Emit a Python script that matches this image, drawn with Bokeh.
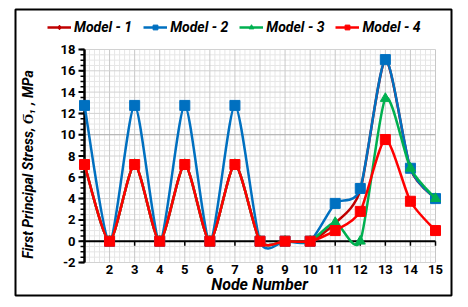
import math
from bokeh.plotting import figure
from bokeh.models import Legend, LegendItem, ColumnDataSource, Range1d
from bokeh.core.properties import value
from bokeh.embed import file_html
from bokeh.resources import INLINE

# ---- data ----
nodes = list(range(1, 16))
model1 = [7.2, 0, 7.2, 0, 7.2, 0, 7.2, 0, 0, 0, 1.7, 4.8, 17.0, 6.8, 4.0]
model2 = [12.75, 0, 12.75, 0, 12.75, 0, 12.75, 0, 0, 0, 3.55, 4.95, 17.05, 6.85, 4.0]
model3 = [7.2, 0, 7.2, 0, 7.2, 0, 7.2, 0, 0, 0, 1.75, 0, 13.4, 6.85, 4.0]
model4 = [7.2, 0, 7.2, 0, 7.2, 0, 7.2, 0, 0, 0, 1.0, 2.8, 9.55, 3.75, 1.0]
labels = ["Model - 1", "Model - 2", "Model - 3", "Model - 4"]
colors = ["#C00000", "#0070C0", "#00B050", "#FF0000"]
markers = ["diamond", "square", "triangle", "square"]
msizes = [7, 10, 10, 10]
y_ticks = [-2, 0, 2, 4, 6, 8, 10, 12, 14, 16, 18]
y_tick_labels = [str(v) for v in y_ticks]
x_tick_nodes = nodes[1:]
x_tick_labels = [str(v) for v in x_tick_nodes]
x_title = "Node Number"
y_title = "First Principal Stress, Ϭ₁ , MPa"

FONT = value("Roboto")

# ---- layout (page pixels) ----
PX_X1, PX_X15 = 85, 436
PX_Y18, PX_YM2 = 50, 263
FR_L, FR_R, FR_T, FR_B = 16, 452, 10, 296
kx = (PX_X15 - PX_X1) / 14.0
ky = (PX_YM2 - PX_Y18) / 20.0
x_start = 1 - (PX_X1 - FR_L) / kx
x_end = 15 + (FR_R - PX_X15) / kx
y_end = 18 + (PX_Y18 - FR_T) / ky
y_start = -2 - (FR_B - PX_YM2) / ky


def bezier_source(xs, ys, k=0.12):
    n = len(xs)
    d = dict(x0=[], y0=[], x1=[], y1=[], cx0=[], cy0=[], cx1=[], cy1=[])
    for i in range(n - 1):
        a = i - 1 if i > 0 else i
        b = i + 2 if i + 2 < n else i + 1
        d["x0"].append(xs[i]); d["y0"].append(ys[i])
        d["x1"].append(xs[i + 1]); d["y1"].append(ys[i + 1])
        d["cx0"].append(xs[i] + k * (xs[i + 1] - xs[a]))
        d["cy0"].append(ys[i] + k * (ys[i + 1] - ys[a]))
        d["cx1"].append(xs[i + 1] - k * (xs[b] - xs[i]))
        d["cy1"].append(ys[i + 1] - k * (ys[b] - ys[i]))
    return ColumnDataSource(d)


p = figure(x_range=Range1d(x_start, x_end), y_range=Range1d(y_start, y_end),
           x_axis_type=None, y_axis_type=None,
           output_backend="svg", toolbar_location=None,
           frame_width=FR_R - FR_L, frame_height=FR_B - FR_T,
           min_border_left=FR_L - 1, min_border_top=FR_T - 1,
           min_border_right=8, min_border_bottom=3)
p.outline_line_color = "black"
p.outline_line_width = 2
p.background_fill_color = "white"
p.border_fill_color = "white"

xmin, xmax = nodes[0], nodes[-1]
ymin, ymax = y_ticks[0], y_ticks[-1]

# ---- grid ----
minor_x = [xmin + i * 0.2 for i in range(int(round((xmax - xmin) / 0.2)) + 1)]
minor_x = [v for v in minor_x if abs(v - round(v)) > 1e-6]
minor_y = [ymin + i * 0.5 for i in range(int(round((ymax - ymin) / 0.5)) + 1)]
minor_y = [v for v in minor_y if abs(v / 2 - round(v / 2)) > 1e-6]
p.segment(x0=minor_x, y0=[ymin] * len(minor_x), x1=minor_x, y1=[ymax] * len(minor_x),
          line_color="#e6e6e6", line_width=1, level="underlay")
p.segment(x0=[xmin] * len(minor_y), y0=minor_y, x1=[xmax] * len(minor_y), y1=minor_y,
          line_color="#e6e6e6", line_width=1, level="underlay")
p.segment(x0=nodes, y0=[ymin] * len(nodes), x1=nodes, y1=[ymax] * len(nodes),
          line_color="#c8c8c8", line_width=1, level="underlay")
p.segment(x0=[xmin] * len(y_ticks), y0=y_ticks, x1=[xmax] * len(y_ticks), y1=y_ticks,
          line_color="#d2d2d2", line_width=1, level="underlay")
p.segment(x0=[xmin], y0=[10], x1=[xmax], y1=[10], line_color="#b0b0b0", line_width=1,
          level="underlay")

# ---- axes (drawn) ----
# zero line with ticks
p.segment(x0=[xmin], y0=[0], x1=[xmax], y1=[0], line_color="black", line_width=2)
p.segment(x0=nodes, y0=[0] * len(nodes), x1=nodes, y1=[-4.5 / ky] * len(nodes),
          line_color="black", line_width=1.5)
# y axis line and ticks
all_minor_y = [ymin + i * 0.5 for i in range(int(round((ymax - ymin) / 0.5)) + 1)]
p.segment(x0=[xmin] * len(all_minor_y), y0=all_minor_y,
          x1=[xmin - 4 / kx] * len(all_minor_y), y1=all_minor_y,
          line_color="black", line_width=1.5)
p.segment(x0=[xmin] * len(y_ticks), y0=y_ticks, x1=[xmin - 6 / kx] * len(y_ticks), y1=y_ticks,
          line_color="black", line_width=2)
p.segment(x0=[xmin], y0=[ymin], x1=[xmin], y1=[ymax], line_color="black", line_width=2.5)

p.text(x=[xmin] * len(y_ticks), y=y_ticks, text=y_tick_labels, x_offset=-9,
       text_align="right", text_baseline="middle", text_font=FONT,
       text_font_style="bold", text_font_size="13px", text_color="black")
p.text(x=x_tick_nodes, y=[ymin] * len(x_tick_nodes), text=x_tick_labels, y_offset=2,
       text_align="center", text_baseline="top", text_font=FONT,
       text_font_style="bold", text_font_size="13px", text_color="black")
p.text(x=[xmin + (260 - PX_X1) / kx], y=[ymin], text=[x_title], y_offset=12,
       text_align="center", text_baseline="top", text_font=FONT,
       text_font_style="bold italic", text_font_size="16px", text_color="black")
p.text(x=[xmin - (PX_X1 - 28) / kx], y=[ymax - (165 - PX_Y18) / ky], text=[y_title],
       angle=math.pi / 2, text_align="center", text_baseline="middle", text_font=FONT,
       text_font_style="bold italic", text_font_size="14px", text_color="black")

# ---- series ----
items = []
for vals, lab, col, mk, ms in zip([model1, model2, model3, model4], labels, colors, markers, msizes):
    src = bezier_source(nodes, vals)
    r1 = p.bezier(x0="x0", y0="y0", x1="x1", y1="y1", cx0="cx0", cy0="cy0",
                  cx1="cx1", cy1="cy1", source=src, line_color=col, line_width=2.5)
    r2 = p.scatter(nodes, vals, marker=mk, size=ms, fill_color=col, line_color=col)
    items.append(LegendItem(label=lab, renderers=[r1, r2]))

legend = Legend(items=items, orientation="horizontal", location=(32, FR_B - 36),
                label_text_font="Roboto", label_text_font_style="bold italic",
                label_text_font_size="14px", label_text_color="black",
                glyph_width=24, glyph_height=12, spacing=11, padding=2, margin=0,
                border_line_color=None, background_fill_alpha=0,
                label_standoff=3)
p.add_layout(legend, "center")

open("out.html", "w").write(file_html(p, INLINE))
